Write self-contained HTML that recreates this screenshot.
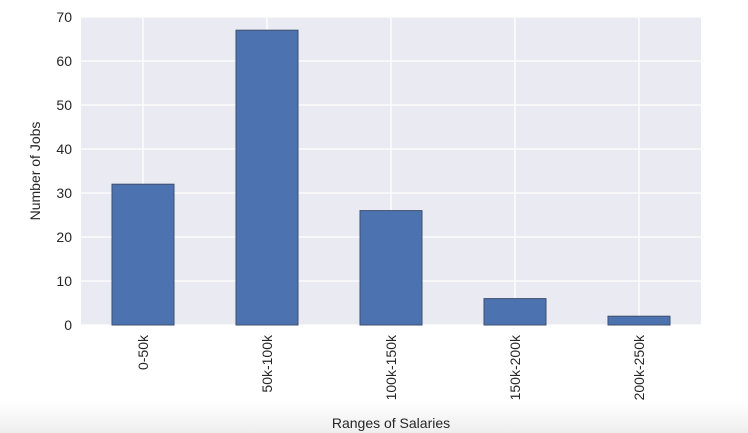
<!DOCTYPE html>
<html><head><meta charset="utf-8"><style>
html,body{margin:0;padding:0;background:#fff;}
body{width:748px;height:433px;overflow:hidden;position:relative;font-family:"Liberation Sans","DejaVu Sans",sans-serif;}
#shade{position:absolute;left:0;top:402px;width:748px;height:31px;background:linear-gradient(#fff,#eeeeee);}
svg{position:absolute;left:0;top:0;}
</style></head><body>
<div id="shade"></div>
<svg id="chart" width="748" height="433"></svg>
<script>
const categories = ["0-50k","50k-100k","100k-150k","150k-200k","200k-250k"];
const jobCounts = [32, 67, 26, 6, 2];
const yTicks = [0,10,20,30,40,50,60,70];
const NS="http://www.w3.org/2000/svg";
const svg=document.getElementById('chart');
const L=81,R=701,T=17,B=325,yMax=70;
const y=v=>B-(v/yMax)*(B-T);
const band=(R-L)/categories.length;
const x=i=>L+band*(i+0.5);
function mk(t,a,p){const e=document.createElementNS(NS,t);for(const k in a)e.setAttribute(k,a[k]);(p||svg).appendChild(e);return e;}
const bg=mk('rect',{x:L,y:T,width:R-L,height:B-T,fill:'#eaeaf2'});


yTicks.forEach(v=>{
  const g=mk('line',{x1:L,x2:R,y1:y(v),y2:y(v),stroke:'#fff','stroke-width':1.3});
  
  
  const t=mk('text',{x:L-9,y:y(v)+5,'text-anchor':'end','font-size':14,fill:'#262626'});
  t.textContent=v;
  
  
});
categories.forEach((c,i)=>{
  const g=mk('line',{x1:x(i),x2:x(i),y1:T,y2:B,stroke:'#fff','stroke-width':1.3});
  
  
});
const bw=band*0.5;
categories.forEach((c,i)=>{
  const r=mk('rect',{x:x(i)-bw/2,y:y(jobCounts[i]),width:bw,height:B-y(jobCounts[i]),fill:'#4c72b0',stroke:'#3f4f6e','stroke-width':1});
  
  
  const t=mk('text',{transform:`translate(${x(i)+5},${B+10}) rotate(-90)`,'text-anchor':'end','font-size':14,fill:'#262626'});
  t.textContent=c;
  
  
});
const yt=mk('text',{transform:`translate(40,${(T+B)/2}) rotate(-90)`,'text-anchor':'middle','font-size':14,fill:'#262626'});
yt.textContent='Number of Jobs';


const xt=mk('text',{x:(L+R)/2,y:428,'text-anchor':'middle','font-size':14,fill:'#262626'});
xt.textContent='Ranges of Salaries';


</script>
</body></html>
